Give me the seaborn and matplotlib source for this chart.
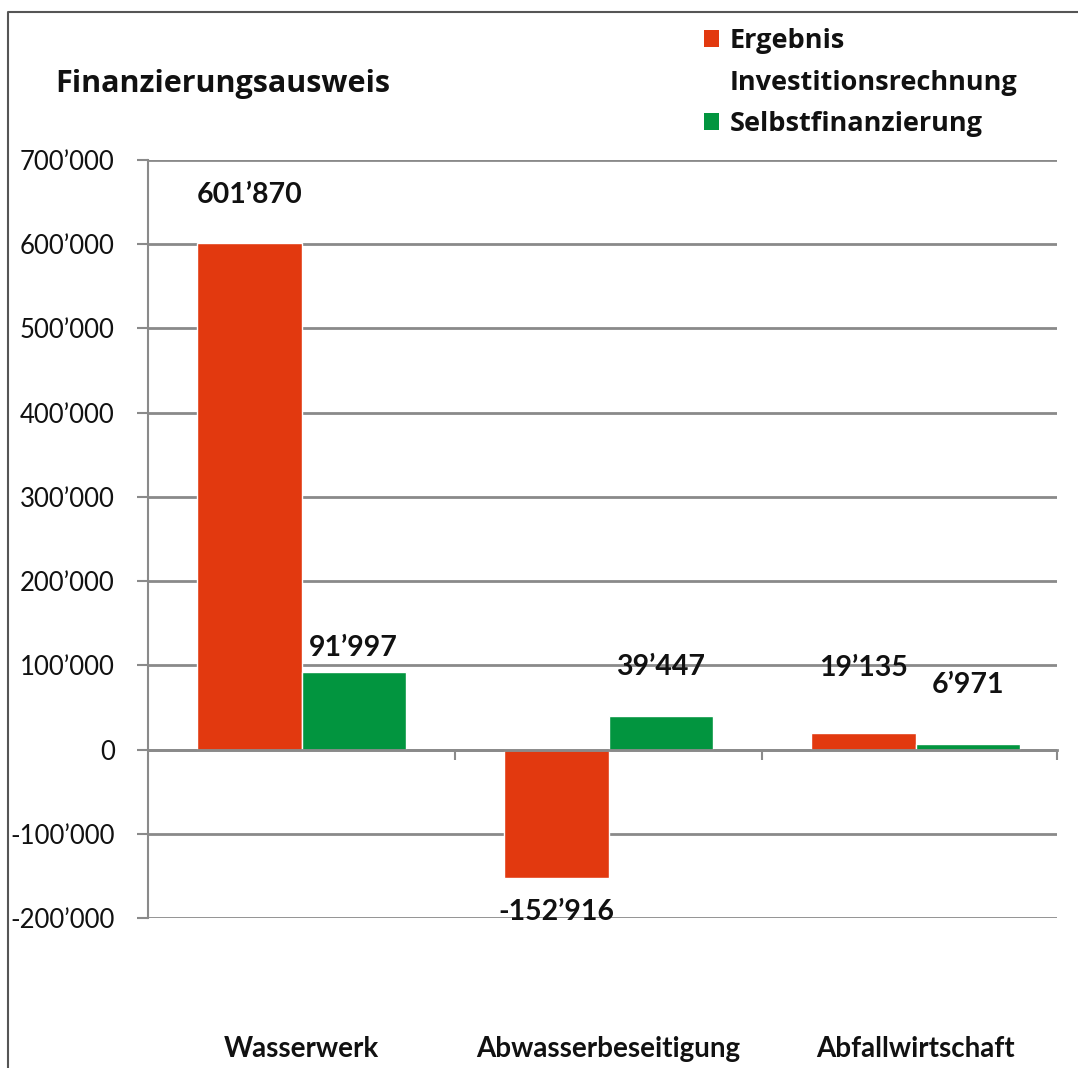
import pandas as pd
import seaborn as sns
import matplotlib.pyplot as plt
from matplotlib.lines import Line2D
from matplotlib.patches import Patch

categories = ['Wasserwerk', 'Abwasserbeseitigung', 'Abfallwirtschaft']
series = ['Ergebnis Investitionsrechnung', 'Selbstfinanzierung']
ergebnis = [601870, -152916, 19135]
selbstfin = [91997, 39447, 6971]
yticks = [-200000, -100000, 0, 100000, 200000, 300000, 400000, 500000, 600000, 700000]

colors = ['#E2390F', '#02953F']
grid_col = '#8a8a8a'

df = pd.DataFrame({
    'Bereich': categories * 2,
    'Serie': [series[0]] * 3 + [series[1]] * 3,
    'Wert': ergebnis + selbstfin,
})


def swiss(v):
    return f'{v:,}'.replace(',', '\u2019')


sns.set_theme(style='white')
plt.rcParams['font.family'] = ['Lato', 'DejaVu Sans']

fig = plt.figure(figsize=(10.78, 10.68), dpi=100)
ax = fig.add_axes([148 / 1078, 1 - 918 / 1068, (1057 - 148) / 1078, (918 - 160) / 1068])

sns.barplot(data=df, x='Bereich', y='Wert', hue='Serie', palette=colors,
            width=0.68, saturation=1, ax=ax, legend=False, zorder=3)

ax.set_ylim(-200000, 700000)
ax.set_xlim(-0.5, 2.46)
ax.set_yticks(yticks)
ax.set_yticklabels([swiss(t) for t in yticks], fontsize=18.5)
ax.set_xlabel('')
ax.set_ylabel('')

# gridlines, behind bars
ax.set_axisbelow(True)
ax.yaxis.grid(True, color=grid_col, linewidth=2)
ax.xaxis.grid(False)

for s in ['top', 'right']:
    ax.spines[s].set_visible(False)
ax.spines['left'].set_color(grid_col)
ax.spines['left'].set_linewidth(1.5)
ax.spines['bottom'].set_position(('data', 0))
ax.spines['bottom'].set_color(grid_col)
ax.spines['bottom'].set_linewidth(2)
ax.spines['bottom'].set_zorder(4)

ax.tick_params(axis='y', which='major', left=True, length=8, width=1.5,
               color=grid_col, pad=16, labelcolor='#111111')
ax.tick_params(axis='x', which='major', bottom=False, length=0, pad=206,
               labelsize=20, labelcolor='#111111')
for lbl in ax.get_xticklabels():
    lbl.set_fontweight('bold')
ax.set_xticks([0.5, 1.5, 2.46], minor=True)
ax.tick_params(axis='x', which='minor', bottom=True, length=7, width=1.5,
               color=grid_col, direction='out')

# value labels
offsets = [[48, -34, 65], [24, 49, 59]]
for ci, cont in enumerate(ax.containers):
    for bi, bar in enumerate(cont):
        y0, h = bar.get_y(), bar.get_height()
        end = max(y0, y0 + h) if h >= 0 else min(y0, y0 + h)
        ax.annotate(swiss(int(round(h))), xy=(bar.get_x() + bar.get_width() / 2, end),
                    xytext=(0, offsets[ci][bi]), textcoords='offset pixels',
                    ha='center', va='center', fontsize=20.5, fontweight='bold',
                    color='#111111', zorder=5)

# title
fig.text(55 / 1078, 1 - 84 / 1068, 'Finanzierungsausweis', fontsize=22,
         fontweight='bold', va='center', ha='left', color='#111111',
         family=['Open Sans', 'DejaVu Sans'])

# legend: first series label wraps onto a second line without a swatch
first, second = series[0].split(' ', 1)
handles = [Patch(facecolor=colors[0], edgecolor='none'),
           Patch(facecolor='none', edgecolor='none'),
           Patch(facecolor=colors[1], edgecolor='none')]
labels = [first, second, series[1]]
leg = fig.legend(handles, labels, loc='upper left',
                 bbox_to_anchor=(704 / 1078, 1 - 28 / 1068), frameon=False,
                 handlelength=0.56, handleheight=0.6, handletextpad=0.38,
                 labelspacing=0.58, borderaxespad=0, borderpad=0,
                 prop={'family': ['Open Sans', 'DejaVu Sans'], 'weight': 'bold', 'size': 19.5})
for t in leg.get_texts():
    t.set_color('#111111')

# outer frame (top and left edges)
fig.add_artist(Line2D([8 / 1078, 8 / 1078, 1.0], [0.0, 1 - 12 / 1068, 1 - 12 / 1068],
                      transform=fig.transFigure, color='#555555', linewidth=1.5))

fig.savefig('out.png', dpi=100, facecolor='white')
